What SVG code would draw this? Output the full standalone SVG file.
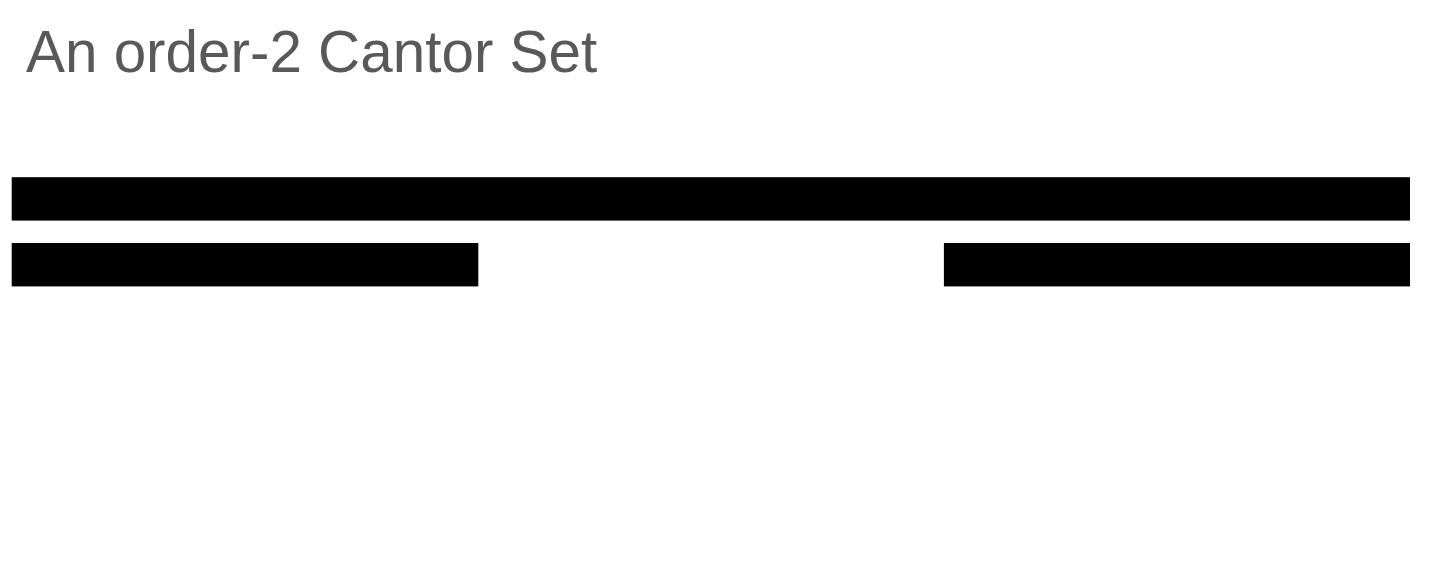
<svg xmlns="http://www.w3.org/2000/svg" width="1436" height="581" viewBox="0 0 1436 581">
<style>
.title{font-family:"Liberation Sans",Arial,sans-serif;font-size:58.4px;fill:#595959}
.seg{fill:#000}
</style>
<rect width="1436" height="581" fill="#fff"/>
<text class="title" x="26" y="72">An order-2 Cantor Set</text>
<g id="level0">
<rect class="seg" x="11.7" y="177.2" width="466.3" height="43.4"/>
<rect class="seg" x="477.8" y="177.2" width="466.3" height="43.4"/>
<rect class="seg" x="943.9" y="177.2" width="466.1" height="43.4"/>
</g>
<g id="level1">
<rect class="seg" x="11.7" y="243" width="466.6" height="43.4"/>
<rect class="seg" x="943.9" y="243" width="466.1" height="43.4"/>
</g>
</svg>
